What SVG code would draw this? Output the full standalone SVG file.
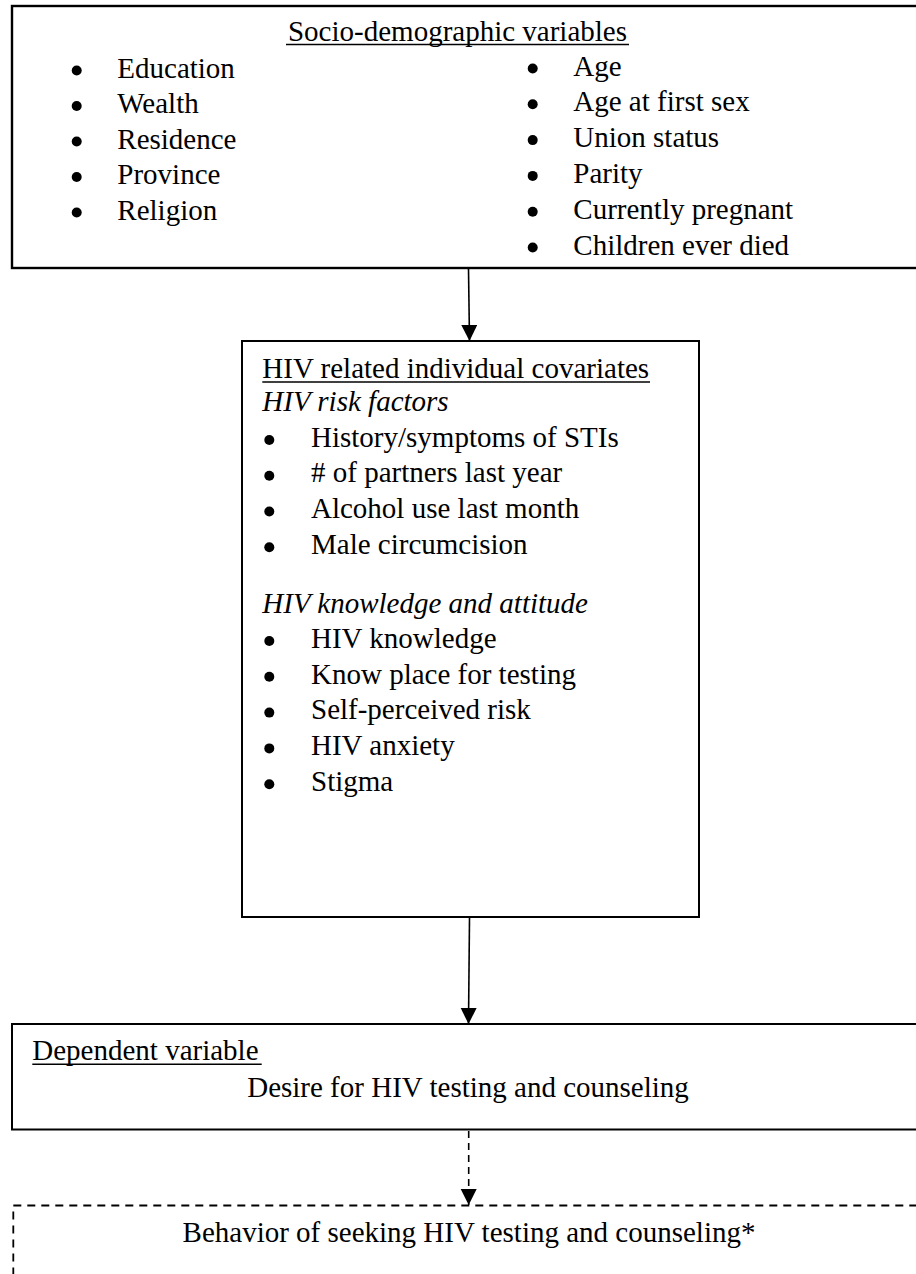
<svg xmlns="http://www.w3.org/2000/svg" width="916" height="1274" viewBox="0 0 916 1274">
<defs>
<style>
text{font-family:"Liberation Serif","Times New Roman",serif;font-size:29px;fill:#000}
.it{font-style:italic}
.mid{text-anchor:middle}
.box{fill:#fff;stroke:#000;stroke-width:2}
.dbox{fill:#fff;stroke:#000;stroke-width:1.8;stroke-dasharray:8 6}
.ul{stroke:#000;stroke-width:1.6}
.conn{stroke:#000;stroke-width:1.6;fill:none}
.dconn{stroke:#000;stroke-width:1.6;fill:none;stroke-dasharray:7 5}
circle{fill:#000}
</style>
<marker id="ah" markerUnits="userSpaceOnUse" markerWidth="16" markerHeight="17" refX="16" refY="8" orient="auto">
<path d="M0,0 L16,8 L0,16 Z" fill="#000"/>
</marker>
</defs>
<rect width="916" height="1274" fill="#fff"/>

<g id="socio">
<rect class="box" x="12" y="6" width="930" height="262" style="stroke-width:2.4"/>
<text class="mid" x="457.5" y="41">Socio-demographic variables</text>
<line class="ul" x1="286" y1="44.5" x2="629" y2="44.5"/>
<circle cx="76.7" cy="70.5" r="5"/><text x="117.3" y="77.5">Education</text>
<circle cx="76.7" cy="106" r="5"/><text x="117.3" y="113">Wealth</text>
<circle cx="76.7" cy="141.5" r="5"/><text x="117.3" y="148.5">Residence</text>
<circle cx="76.7" cy="177" r="5"/><text x="117.3" y="184">Province</text>
<circle cx="76.7" cy="212.5" r="5"/><text x="117.3" y="219.5">Religion</text>
<circle cx="532.7" cy="68.5" r="5"/><text x="573.3" y="75.5">Age</text>
<circle cx="532.7" cy="104.3" r="5"/><text x="573.3" y="111.3">Age at first sex</text>
<circle cx="532.7" cy="140.1" r="5"/><text x="573.3" y="147.1">Union status</text>
<circle cx="532.7" cy="175.9" r="5"/><text x="573.3" y="182.9">Parity</text>
<circle cx="532.7" cy="211.7" r="5"/><text x="573.3" y="218.7">Currently pregnant</text>
<circle cx="532.7" cy="247.5" r="5"/><text x="573.3" y="254.5">Children ever died</text>
</g>

<g id="hiv">
<rect class="box" x="242" y="341" width="457" height="576"/>
<text x="262.3" y="378.3">HIV related individual covariates</text>
<line class="ul" x1="262.3" y1="382" x2="650" y2="382"/>
<text class="it" x="262.3" y="411">HIV risk factors</text>
<circle cx="269.3" cy="440" r="5"/><text x="311" y="446.7">History/symptoms of STIs</text>
<circle cx="269.3" cy="475.7" r="5"/><text x="311" y="482.4">#&#160;of partners last year</text>
<circle cx="269.3" cy="511.5" r="5"/><text x="311" y="518.2">Alcohol use last month</text>
<circle cx="269.3" cy="547.3" r="5"/><text x="311" y="554">Male circumcision</text>
<text class="it" x="262.3" y="612.7">HIV knowledge and attitude</text>
<circle cx="269.3" cy="641" r="5"/><text x="311" y="647.7">HIV knowledge</text>
<circle cx="269.3" cy="676.8" r="5"/><text x="311" y="683.5">Know place for testing</text>
<circle cx="269.3" cy="712.6" r="5"/><text x="311" y="719.3">Self-perceived risk</text>
<circle cx="269.3" cy="748.4" r="5"/><text x="311" y="755.1">HIV anxiety</text>
<circle cx="269.3" cy="784.2" r="5"/><text x="311" y="790.9">Stigma</text>
</g>

<g id="dependent">
<rect class="box" x="12" y="1024" width="930" height="105.5"/>
<text x="32.3" y="1060">Dependent variable</text>
<line class="ul" x1="32.3" y1="1064.3" x2="261.7" y2="1064.3"/>
<text class="mid" x="468" y="1096.7">Desire for HIV testing and counseling</text>
</g>

<g id="behavior">
<rect class="dbox" x="13.3" y="1205.5" width="930" height="120"/>
<text class="mid" x="469" y="1241.7">Behavior of seeking HIV testing and counseling*</text>
</g>

<g id="connectors">
<line class="conn" x1="468.5" y1="269" x2="469.5" y2="341" marker-end="url(#ah)"/>
<line class="conn" x1="469.5" y1="918" x2="468.5" y2="1024" marker-end="url(#ah)"/>
<line class="dconn" x1="468.7" y1="1131" x2="468.7" y2="1205" marker-end="url(#ah)"/>
</g>
</svg>
